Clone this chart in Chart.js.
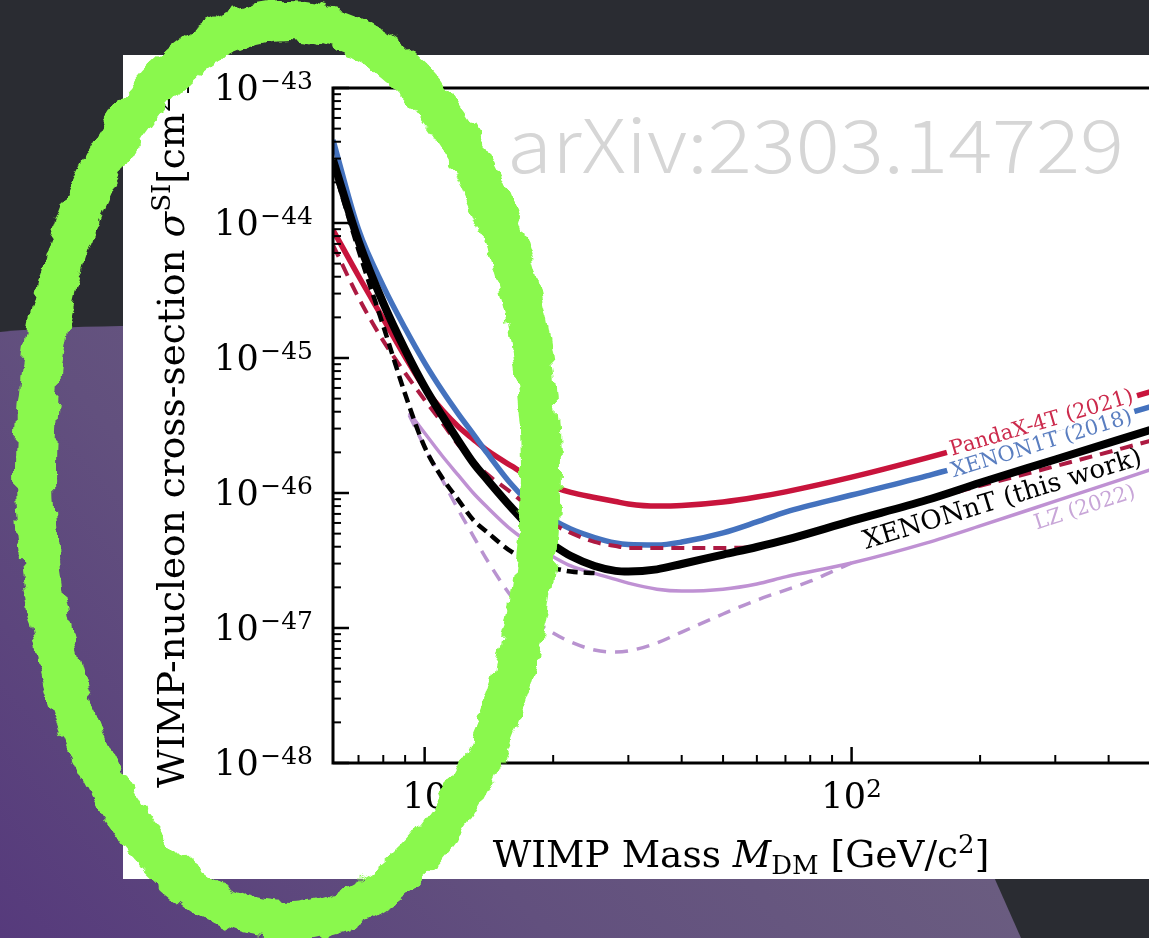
<!DOCTYPE html>
<html>
<head>
<meta charset="utf-8">
<script src="https://cdn.jsdelivr.net/npm/chart.js@4.4.1/dist/chart.umd.min.js"></script>
<style>
  html, body { margin: 0; padding: 0; width: 1149px; height: 938px; overflow: hidden; background: #2a2c32; }
  #bg, #overlay { position: absolute; left: 0; top: 0; }
  #overlay { pointer-events: none; }
  #panel { position: absolute; left: 123px; top: 55px; width: 1040px; height: 824px; background: #fff; }
  #limits { position: absolute; left: 123px; top: 55px; }
</style>
</head>
<body>
<svg id="bg" width="1149" height="938">
  <defs>
    <linearGradient id="violet" x1="0" y1="938" x2="700" y2="330" gradientUnits="userSpaceOnUse">
      <stop offset="0" stop-color="#563a7c"/>
      <stop offset="0.45" stop-color="#62507e"/>
      <stop offset="0.85" stop-color="#6a5c80"/>
      <stop offset="1" stop-color="#6c6082"/>
    </linearGradient>
  </defs>
  <path d="M0,332 C40,328 90,326 140,326 L750,326 L1021,938 L0,938 Z" fill="url(#violet)"/>
</svg>
<div id="panel"></div>
<canvas id="limits" width="1040" height="824"></canvas>
<svg id="overlay" width="1149" height="938">
  <defs>
    <filter id="rough" x="-10%" y="-10%" width="120%" height="120%">
      <feTurbulence type="fractalNoise" baseFrequency="0.05" numOctaves="3" seed="7" result="noise"/>
      <feDisplacementMap in="SourceGraphic" in2="noise" scale="16" xChannelSelector="R" yChannelSelector="G"/>
    </filter>
  </defs>
  <text x="507" y="173" textLength="617" lengthAdjust="spacingAndGlyphs"
        font-family="'Noto Sans CJK JP', 'Noto Sans', sans-serif" font-weight="300" font-size="74"
        fill="#d6d6d6">arXiv:2303.14729</text>
  <ellipse cx="288" cy="471" rx="253" ry="450" fill="none" stroke="#8af84e" stroke-width="40" filter="url(#rough)"/>
</svg>
<script>
// limites de section efficace SI (lecture du graphique)
const massGrid = [6.1, 7, 8, 9, 10, 11, 12, 13, 14, 16, 18, 20, 22, 25, 28, 30, 35, 40, 50, 60, 70, 100, 150, 200, 300, 500];

const sigmaPandaX = [8.87e-45, 4.05e-45, 1.95e-45, 1.02e-45, 5.96e-46, 4.12e-46, 3.1e-46, 2.5e-46, 2.07e-46, 1.58e-46,
  1.27e-46, 1.11e-46, 1.01e-46, 9.27e-47, 8.65e-47, 8.3e-47, 8.0e-47, 8.07e-47, 8.57e-47, 9.33e-47,
  1.02e-46, 1.31e-46, 1.82e-46, 2.34e-46, 3.48e-46, 5.6e-46];

const sigmaXenon1T = [4.12e-44, 8.95e-45, 3.41e-45, 1.66e-45, 9.2e-46, 5.71e-46, 3.84e-46, 2.73e-46, 1.98e-46, 1.15e-46,
  7.94e-47, 6.32e-47, 5.41e-47, 4.68e-47, 4.26e-47, 4.15e-47, 4.12e-47, 4.33e-47, 5.06e-47, 6.1e-47,
  7.23e-47, 9.66e-47, 1.34e-46, 1.73e-46, 2.69e-46, 4.34e-46];

const sigmaXenonNT = [2.93e-44, 7.36e-45, 2.55e-45, 1.15e-45, 6.1e-46, 3.72e-46, 2.43e-46, 1.67e-46, 1.26e-46, 7.74e-47,
  5.27e-47, 4.12e-47, 3.41e-47, 2.88e-47, 2.65e-47, 2.62e-47, 2.72e-47, 2.98e-47, 3.5e-47, 3.98e-47,
  4.49e-47, 6.21e-47, 8.87e-47, 1.19e-46, 1.77e-46, 2.93e-46];

const sigmaRedDashed = [6.87e-45, 2.8e-45, 1.34e-45, 7.74e-46, 4.89e-46, 3.3e-46, 2.27e-46, 1.73e-46, 1.38e-46, 1.0e-46,
  7.36e-47, 5.89e-47, 5.06e-47, 4.34e-47, 4.05e-47, 3.92e-47, 3.92e-47, 3.92e-47, 3.92e-47, 3.98e-47,
  4.49e-47, 6.21e-47, 8.87e-47, 1.13e-46, 1.58e-46, 2.43e-46];

const massBlackDashed = [6.1, 7, 8, 9, 10, 11, 12, 13, 14, 16, 18, 20, 22, 25];
const sigmaBlackDashed = [2.69e-44, 6.31e-45, 1.73e-45, 5.41e-46, 2.19e-46, 1.29e-46, 8.87e-47, 6.31e-47, 5.14e-47,
  3.66e-47, 3.08e-47, 2.78e-47, 2.62e-47, 2.55e-47];

const massLZ = [9.2, 10, 11, 12, 13, 14, 16, 18, 20, 22, 25, 28, 30, 35, 40, 50, 60, 70, 100, 150, 200, 300, 500];
const sigmaLZ = [3.92e-46, 2.78e-46, 1.88e-46, 1.35e-46, 1.0e-46, 7.87e-47, 5.3e-47, 4.08e-47, 3.37e-47, 2.88e-47,
  2.54e-47, 2.29e-47, 2.15e-47, 1.94e-47, 1.88e-47, 1.94e-47, 2.12e-47, 2.39e-47, 3.03e-47, 4.27e-47,
  5.7e-47, 8.7e-47, 1.48e-46];

const massLZDashed = [9.2, 10, 11, 12, 13, 14, 16, 18, 20, 22, 25, 28, 30, 35, 40, 50, 60, 70, 80, 90, 100];
const sigmaLZDashed = [3.79e-46, 2.19e-46, 1.25e-46, 7.48e-47, 4.8e-47, 3.19e-47, 1.7e-47, 1.15e-47, 9.18e-48, 7.87e-48,
  6.87e-48, 6.64e-48, 6.76e-48, 7.75e-48, 9.33e-48, 1.27e-47, 1.61e-47, 1.91e-47, 2.22e-47, 2.62e-47, 3.03e-47];

// axes
const xMin = 6.1, xMax = 500;
const yMin = 1e-48, yMax = 1e-43;
const xMajorTicks = [10, 100];
const xMajorLabels = [['10', ''], ['10', '2']];
const xMinorTicks = [7, 8, 9, 20, 30, 40, 50, 60, 70, 80, 90, 200, 300, 400];
const yMajorTicks = [1e-48, 1e-47, 1e-46, 1e-45, 1e-44, 1e-43];
const yMajorLabels = ['\u221248', '\u221247', '\u221246', '\u221245', '\u221244', '\u221243'];
const yMinorSteps = [2, 3, 4, 5, 6, 7, 8, 9];

const curveLabels = [
  { text: 'PandaX-4T (2021)', mass: 279, sigma: 3.27e-46, angle: -16.5, color: '#cc2a4c', size: 21, knockout: true },
  { text: 'XENON1T (2018)', mass: 279, sigma: 2.29e-46, angle: -17, color: '#5a7ec0', size: 21, knockout: true },
  { text: 'XENONnT (this work)', mass: 226, sigma: 8.87e-47, angle: -17, color: '#000000', size: 26 },
  { text: 'LZ (2022)', mass: 352, sigma: 7.74e-47, angle: -18, color: '#c8a6d8', size: 21 }
];

const SERIF = "'DejaVu Serif', serif";

function pts(xs, ys) {
  return xs.map((m, i) => ({ x: m, y: ys[i] }));
}

function drawParts(ctx, parts, x, y, align) {
  const widths = parts.map(p => { ctx.font = p[1]; return ctx.measureText(p[0]).width; });
  const total = widths.reduce((a, b) => a + b, 0);
  let cx = align === 'center' ? x - total / 2 : (align === 'right' ? x - total : x);
  parts.forEach((p, i) => {
    ctx.font = p[1];
    ctx.fillText(p[0], cx, y + p[2]);
    cx += widths[i];
  });
}

const axisFrame = {
  id: 'axisFrame',
  afterDatasetsDraw(chart) {
    const { ctx, scales: { x, y } } = chart;
    ctx.save();
    curveLabels.forEach(l => {
      const px = x.getPixelForValue(l.mass);
      const py = y.getPixelForValue(l.sigma);
      ctx.save();
      ctx.translate(px, py);
      ctx.rotate(l.angle * Math.PI / 180);
      ctx.font = l.size + 'px ' + SERIF;
      const w = ctx.measureText(l.text).width;
      if (l.knockout) {
        ctx.fillStyle = '#ffffff';
        ctx.fillRect(-w / 2 - 4, -8, w + 8, 16);
      }
      ctx.fillStyle = l.color;
      ctx.textAlign = 'center';
      ctx.textBaseline = 'middle';
      ctx.fillText(l.text, 0, 0);
      ctx.restore();
    });
    ctx.restore();
  },
  afterDraw(chart) {
    const { ctx, chartArea: a, scales: { x, y } } = chart;
    const W = chart.width;
    ctx.save();
    ctx.strokeStyle = '#000';
    ctx.lineCap = 'butt';

    // cadre (haut, gauche, bas)
    ctx.lineWidth = 3;
    ctx.beginPath();
    ctx.moveTo(W, a.top); ctx.lineTo(a.left, a.top);
    ctx.lineTo(a.left, a.bottom); ctx.lineTo(W, a.bottom);
    ctx.stroke();

    const tick = (x1, y1, x2, y2, lw) => {
      ctx.lineWidth = lw;
      ctx.beginPath(); ctx.moveTo(x1, y1); ctx.lineTo(x2, y2); ctx.stroke();
    };

    xMajorTicks.forEach(v => { const p = x.getPixelForValue(v); tick(p, a.bottom, p, a.bottom - 16, 2.5); });
    xMinorTicks.forEach(v => { const p = x.getPixelForValue(v); tick(p, a.bottom, p, a.bottom - 8, 2); });
    yMajorTicks.forEach(v => { const p = y.getPixelForValue(v); tick(a.left, p, a.left + 16, p, 2.5); });
    for (let e = -48; e < -43; e++) {
      yMinorSteps.forEach(k => {
        const p = y.getPixelForValue(k * Math.pow(10, e));
        tick(a.left, p, a.left + 8, p, 2);
      });
    }

    ctx.fillStyle = '#000';
    ctx.textBaseline = 'alphabetic';
    const fBase = '35px ' + SERIF, fExp = '25px ' + SERIF;

    yMajorTicks.forEach((v, i) => {
      const p = y.getPixelForValue(v);
      drawParts(ctx, [['10', fBase, 12], [' ', '5px ' + SERIF, 0], [yMajorLabels[i], fExp, 1]], a.left - 20, p, 'right');
    });
    xMajorTicks.forEach((v, i) => {
      const p = x.getPixelForValue(v);
      const parts = [[xMajorLabels[i][0], fBase, 0]];
      if (xMajorLabels[i][1]) parts.push([xMajorLabels[i][1], fExp, -11]);
      drawParts(ctx, parts, p, a.bottom + 45, 'center');
    });

    // titres
    const fT = '37.5px ' + SERIF, fTi = 'italic 37.5px ' + SERIF, fS = '26px ' + SERIF;
    drawParts(ctx, [
      ['WIMP Mass ', fT, 0], ['M', fTi, 0], ['DM', fS, 7], [' [GeV/c', fT, 0], ['2', fS, -14], [']', fT, 0]
    ], 618, 812, 'center');

    ctx.save();
    ctx.translate(61, 733);
    ctx.rotate(-Math.PI / 2);
    drawParts(ctx, [
      ['WIMP-nucleon cross-section ', fT, 0], ['\u03c3', fTi, 0], ['SI', fS, -14],
      ['[cm', fT, 0], ['2', fS, -14], [']', fT, 0]
    ], 0, 0, 'left');
    ctx.restore();

    ctx.restore();
  }
};

new Chart(document.getElementById('limits'), {
  type: 'line',
  data: {
    datasets: [
      { label: 'XENONnT (this work)', data: pts(massGrid, sigmaXenonNT), borderColor: '#000000', borderWidth: 8, order: 0 },
      { label: 'XENONnT sensitivity', data: pts(massBlackDashed, sigmaBlackDashed), borderColor: '#000000', borderWidth: 4.5, borderDash: [11, 6], order: 1 },
      { label: 'XENON1T (2018)', data: pts(massGrid, sigmaXenon1T), borderColor: '#4472be', borderWidth: 5.5, order: 3 },
      { label: 'PandaX-4T (2021)', data: pts(massGrid, sigmaPandaX), borderColor: '#c8143c', borderWidth: 5.5, order: 4 },
      { label: 'PandaX-4T dashed', data: pts(massGrid, sigmaRedDashed), borderColor: '#ad1a42', borderWidth: 4, borderDash: [13, 8], order: 2 },
      { label: 'LZ (2022)', data: pts(massLZ, sigmaLZ), borderColor: '#bf91d3', borderWidth: 3.5, order: 5 },
      { label: 'LZ dashed', data: pts(massLZDashed, sigmaLZDashed), borderColor: '#b993d0', borderWidth: 3.5, borderDash: [13, 9], order: 6 }
    ]
  },
  options: {
    responsive: false,
    animation: false,
    devicePixelRatio: 1,
    layout: { padding: { top: 33, right: 13, left: 0, bottom: 0 } },
    elements: {
      point: { radius: 0 },
      line: { cubicInterpolationMode: 'monotone', fill: false, borderCapStyle: 'butt' }
    },
    plugins: { legend: { display: false }, tooltip: { enabled: false } },
    scales: {
      x: {
        type: 'logarithmic', min: xMin, max: xMax,
        ticks: { display: false }, grid: { display: false }, border: { display: false },
        afterFit(s) { s.height = 116; }
      },
      y: {
        type: 'logarithmic', min: yMin, max: yMax,
        ticks: { display: false }, grid: { display: false }, border: { display: false },
        afterFit(s) { s.width = 210; }
      }
    }
  },
  plugins: [axisFrame]
});
</script>
</body>
</html>
